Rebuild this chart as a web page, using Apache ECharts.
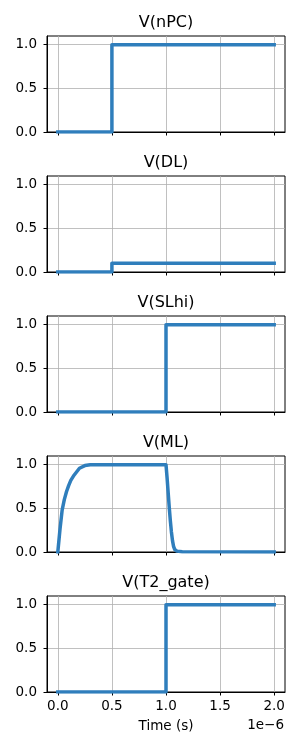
<!DOCTYPE html>
<html><head><meta charset="utf-8">
<script src="https://cdn.jsdelivr.net/npm/echarts@6/dist/echarts.min.js"></script>
<style>html,body{margin:0;padding:0;background:#fff}#c{width:300px;height:750px}</style>
</head><body><div id="c"></div>
<script>
// Panel titles
const titles = ['V(nPC)', 'V(DL)', 'V(SLhi)', 'V(ML)', 'V(T2_gate)'];
// Time values in units of 1e-6 s (axis offset text "1e−6")
const nPC_t = [0, 0.5, 0.5, 2.0];
const nPC_v = [0, 0, 1, 1];
const DL_t = [0, 0.5, 0.5, 2.0];
const DL_v = [0, 0, 0.1, 0.1];
const SLhi_t = [0, 1.0, 1.0, 2.0];
const SLhi_v = [0, 0, 1, 1];
const ML_t = [0, 0.02, 0.04, 0.06, 0.08, 0.10, 0.12, 0.15, 0.20, 0.25, 0.30, 1.00, 1.01, 1.02, 1.03, 1.04, 1.05, 1.06, 1.07, 1.08, 1.10, 1.15, 2.0];
const ML_v = [0, 0.26, 0.48, 0.60, 0.69, 0.76, 0.82, 0.88, 0.96, 0.99, 1.0, 1.0, 0.85, 0.68, 0.51, 0.36, 0.23, 0.13, 0.065, 0.03, 0.01, 0.002, 0.0];
const T2_t = [0, 1.0, 1.0, 2.0];
const T2_v = [0, 0, 1, 1];
const xTicks = [0, 0.5, 1.0, 1.5, 2.0];
const yTicks = [0, 0.5, 1.0];
const xLabel = 'Time (s)';
const xOffsetLabel = '1e\u22126';

const seriesT = [nPC_t, DL_t, SLhi_t, ML_t, T2_t];
const seriesV = [nPC_v, DL_v, SLhi_v, ML_v, T2_v];

const FONT = 'DejaVu Sans';
const LINE = '#2f7ebc';
const TICKFS = 13.5;
const n = titles.length;
const grids = [], xAxes = [], yAxes = [], series = [], titleOpts = [];
for (let i = 0; i < n; i++) {
  const top = 36 + 140 * i;
  grids.push({left: 47, width: 238, top: top, height: 96, show: true, borderColor: '#000', borderWidth: 1, backgroundColor: 'transparent', containLabel: false});
  titleOpts.push({text: titles[i], left: 166, textAlign: 'center', top: top - 21, padding: 0,
    textStyle: {fontSize: 16, fontWeight: 'normal', color: '#000', fontFamily: FONT}});
  const last = i === n - 1;
  xAxes.push({
    type: 'value', gridIndex: i, min: -0.1, max: 2.1,
    axisLine: {show: true, onZero: false, lineStyle: {color: '#000', width: 1}},
    axisTick: {show: true, inside: false, length: 3.5, lineStyle: {color: '#000', width: 1}, customValues: xTicks},
    axisLabel: {show: last, customValues: xTicks, formatter: v => (+v).toFixed(1), fontSize: TICKFS, color: '#000', fontFamily: FONT, margin: 7},
    splitLine: {show: true, lineStyle: {color: '#b0b0b0', width: 0.8}},
    name: last ? xLabel : '', nameLocation: 'middle', nameGap: 27,
    nameTextStyle: {fontSize: TICKFS, color: '#000', fontFamily: FONT}
  });
  yAxes.push({
    type: 'value', gridIndex: i, min: 0, max: 1.1,
    axisLine: {show: true, onZero: false, lineStyle: {color: '#000', width: 1}},
    axisTick: {show: true, inside: false, length: 3.5, lineStyle: {color: '#000', width: 1}, customValues: yTicks},
    axisLabel: {show: true, customValues: yTicks, formatter: v => (+v).toFixed(1), fontSize: TICKFS, color: '#000', fontFamily: FONT, margin: 10},
    splitLine: {show: true, lineStyle: {color: '#b0b0b0', width: 0.8}}
  });
  series.push({
    type: 'line', xAxisIndex: i, yAxisIndex: i, showSymbol: false, symbol: 'none', clip: true,
    data: seriesT[i].map((t, k) => [t, seriesV[i][k]]),
    lineStyle: {width: 3.5, color: LINE, cap: 'square', join: 'round'},
    itemStyle: {color: LINE}
  });
}

const chart = echarts.init(document.getElementById('c'), null, {renderer: 'canvas'});
chart.setOption({
  animation: false,
  backgroundColor: '#fff',
  title: titleOpts,
  grid: grids,
  xAxis: xAxes,
  yAxis: yAxes,
  series: series,
  graphic: [{type: 'text', right: 16, top: 718,
    style: {text: xOffsetLabel, fontSize: TICKFS, fill: '#000', fontFamily: FONT}}]
});
</script></body></html>
